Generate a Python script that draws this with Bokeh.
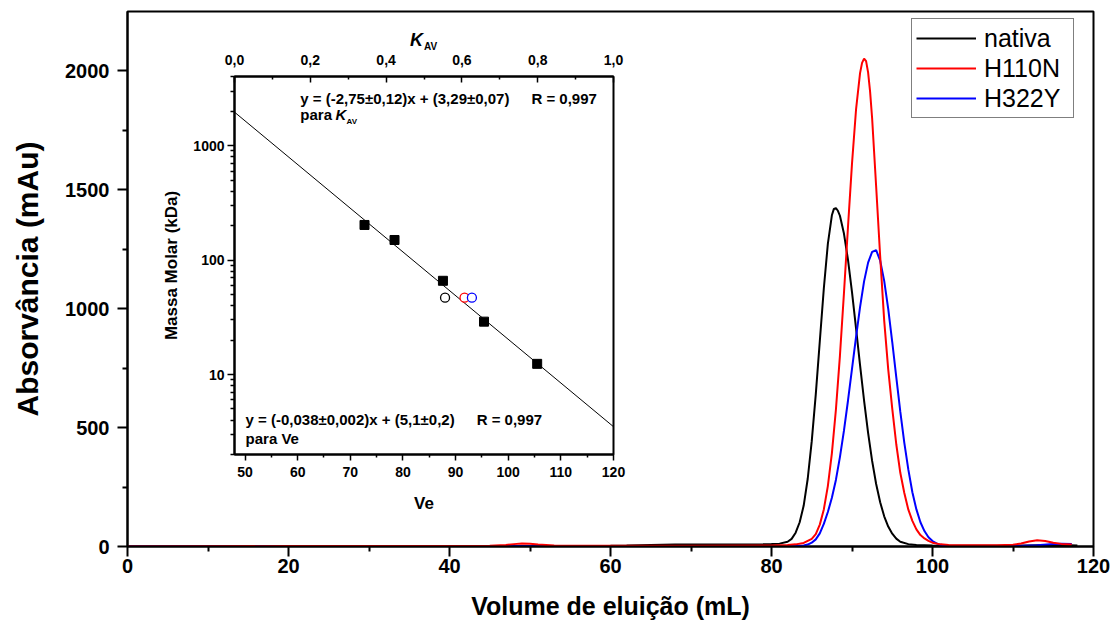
from jinja2 import Template
from bokeh.plotting import figure
from bokeh.models import (Legend, LegendItem, FixedTicker, LinearAxis, Range1d,
                          Label, NumeralTickFormatter, Div)
from bokeh.embed import file_html
from bokeh.resources import INLINE

# ---------------- data: main chromatograms ----------------
black_x = [0, 10, 20, 30, 40, 50, 60, 62, 65, 68, 72, 76, 79, 80, 81, 82, 82.5, 83, 83.5, 84, 84.5, 85,
           85.5, 86, 86.5, 87, 87.5, 87.75, 88, 88.25, 88.5, 89, 89.5, 90, 90.5, 91, 91.5, 92, 92.5, 93,
           93.5, 94, 94.5, 95, 95.5, 96, 97, 98, 100, 105, 110, 113, 115, 117, 118]
black_y = [0, 1, 1, 1, 2, 2, 3, 4, 6, 8, 8, 8, 9, 10, 12, 20, 32, 58, 102, 172, 285, 443,
           640, 863, 1085, 1273, 1393, 1420, 1423, 1412, 1391, 1316, 1206, 1070, 918, 763, 614, 478, 360, 263,
           186, 127, 84, 54, 33, 20, 10, 6, 4, 3, 3, 5, 6, 5, 4]

red_x = [0, 10, 20, 30, 40, 45, 47, 48, 49, 50, 51, 53, 56, 60, 70, 80, 82, 83, 84, 85, 85.5, 86,
         86.5, 87, 87.5, 88, 88.5, 89, 89.5, 90, 90.5, 91, 91.25, 91.5, 91.75, 92, 92.25, 92.5, 93, 93.5,
         94, 94.5, 95, 95.5, 96, 96.5, 97, 97.5, 98, 98.5, 99, 99.5, 100, 101, 102, 105, 108, 110,
         111, 112, 113, 114, 115, 116, 117.3]
red_y = [0, 1, 2, 2, 2, 3, 6, 10, 13, 12, 8, 4, 3, 3, 3, 4, 6, 9, 15, 32, 52, 92,
         156, 254, 392, 575, 802, 1065, 1343, 1610, 1837, 1991, 2034, 2052, 2041, 1994, 1912, 1801, 1514, 1220,
         950, 745, 580, 430, 310, 225, 155, 108, 72, 48, 34, 24, 16, 9, 6, 5, 5, 7,
         13, 21, 26, 23, 16, 11, 8]

blue_x = [0, 10, 20, 30, 40, 50, 60, 70, 80, 83, 84, 84.5, 85, 85.5, 86, 86.5, 87, 87.5, 88, 88.5,
          89, 89.5, 90, 90.5, 91, 91.5, 92, 92.5, 93, 93.5, 94, 94.5, 95, 95.5, 96, 96.5, 97, 97.5,
          98, 98.5, 99, 99.5, 100, 100.5, 101, 102, 105, 110, 113, 115, 116, 117.3]
blue_y = [0, 0, 1, 1, 1, 1, 1, 1, 1, 2, 4, 8, 16, 30, 55, 95, 145, 205, 280, 376,
          487, 613, 747, 881, 1007, 1115, 1194, 1239, 1246, 1202, 1117, 999, 860, 712, 567, 436, 323, 228,
          156, 102, 65, 39, 23, 13, 7, 3, 2, 2, 5, 10, 12, 10]

series_names = ["nativa", "H110N", "H322Y"]
series_colors = ["#000000", "#ff0000", "#0000ff"]

# ---------------- data: inset (calibration) ----------------
std_ve = [72.7, 78.4, 87.6, 95.4, 105.5]
std_mw = [203, 150, 66, 29, 12.4]
sample_ve = [88.0, 91.7, 93.1]
sample_mw = [47, 47, 47]
fit_ve = [48.1, 120]
fit_mw = [1950, 3.5]

main_ticks_x = [0, 20, 40, 60, 80, 100, 120]
main_ticks_y = [0, 500, 1000, 1500, 2000]
kav_ticks = [0.0, 0.2, 0.4, 0.6, 0.8, 1.0]
kav_labels = ["0,0", "0,2", "0,4", "0,6", "0,8", "1,0"]
ve_ticks = [50, 60, 70, 80, 90, 100, 110, 120]
mw_ticks = [10, 100, 1000]

FONT = "Liberation Sans"


def style_axis(ax, tick_size, label_size):
    ax.axis_line_color = "black"
    ax.major_tick_line_color = "black"
    ax.minor_tick_line_color = "black"
    ax.major_label_text_font = FONT
    ax.major_label_text_font_size = tick_size
    ax.major_label_text_font_style = "bold"
    ax.major_label_text_color = "black"
    ax.axis_label_text_font = FONT
    ax.axis_label_text_font_size = label_size
    ax.axis_label_text_font_style = "bold"
    ax.axis_label_text_color = "black"


# ---------------- main figure ----------------
p = figure(width=1115, height=629, x_range=(0, 120), y_range=(0, 2250),
           output_backend="svg", toolbar_location=None,
           min_border_left=127, min_border_right=22, min_border_top=11, min_border_bottom=83)
p.title = None
p.grid.visible = False
p.outline_line_color = "black"
p.outline_line_width = 2
p.background_fill_color = "white"

r_black = p.line(black_x, black_y, line_color=series_colors[0], line_width=2)
r_blue = p.line(blue_x, blue_y, line_color=series_colors[2], line_width=2)
r_red = p.line(red_x, red_y, line_color=series_colors[1], line_width=2)

xa = p.below[0]
ya = p.left[0]
for ax in (xa, ya):
    style_axis(ax, "20px", "25px")
    ax.axis_line_width = 2
    ax.major_tick_line_width = 2
    ax.minor_tick_line_width = 2
    ax.major_tick_in = 0
    ax.major_tick_out = 10
    ax.minor_tick_in = 0
    ax.minor_tick_out = 5
ya.axis_label_text_font_size = "30px"

xa.ticker = FixedTicker(ticks=main_ticks_x, minor_ticks=[10, 30, 50, 70, 90, 110])
ya.ticker = FixedTicker(ticks=main_ticks_y, minor_ticks=[250, 750, 1250, 1750])
xa.axis_label = "Volume de eluição (mL)"
ya.axis_label = "Absorvância (mAu)"
xa.major_label_standoff = 2
xa.axis_label_standoff = 16
ya.major_label_standoff = 8
ya.axis_label_standoff = 18

legend = Legend(items=[LegendItem(label=series_names[0], renderers=[r_black]),
                       LegendItem(label=series_names[1], renderers=[r_red]),
                       LegendItem(label=series_names[2], renderers=[r_blue])],
                location=(784, 428))
legend.label_text_font = FONT
legend.label_text_font_size = "25px"
legend.label_text_color = "black"
legend.glyph_width = 60
legend.glyph_height = 30
legend.label_height = 30
legend.label_width = 85
legend.label_standoff = 8
legend.padding = 4
legend.spacing = 0
legend.margin = 0
legend.border_line_color = "black"
legend.border_line_width = 1
legend.background_fill_color = "white"
legend.background_fill_alpha = 1
p.add_layout(legend)

# ---------------- inset figure ----------------
ins = figure(width=477, height=491, x_range=(48, 120), y_range=(2, 4030), y_axis_type="log",
             output_backend="svg", toolbar_location=None,
             min_border_left=84, min_border_right=14, min_border_top=51, min_border_bottom=62)
ins.title = None
ins.grid.visible = False
ins.outline_line_color = "black"
ins.outline_line_width = 2
ins.background_fill_color = "white"
ins.border_fill_color = None

ins.extra_x_ranges = {"kav": Range1d(0, 1)}
top_ax = LinearAxis(x_range_name="kav")
ins.add_layout(top_ax, "above")

ins.line(fit_ve, fit_mw, line_color="black", line_width=1)
ins.scatter(std_ve, std_mw, marker="square", size=9, fill_color="black", line_color="black")
ins.scatter(sample_ve, sample_mw, marker="circle", size=9, fill_color="white",
            line_color=series_colors, line_width=1.3)

bx = ins.below[0]
ly = ins.left[0]
for ax in (bx, ly, top_ax):
    style_axis(ax, "14px", "17px")
    ax.axis_line_width = 2
    ax.major_tick_line_width = 1.5
    ax.minor_tick_line_width = 1.5

bx.ticker = FixedTicker(ticks=ve_ticks, minor_ticks=[55, 65, 75, 85, 95, 105, 115])
bx.major_tick_in = 0; bx.major_tick_out = 6; bx.minor_tick_in = 0; bx.minor_tick_out = 3
bx.major_label_standoff = 6
bx.axis_label = "Ve"
bx.axis_label_standoff = 14

ly.ticker = FixedTicker(ticks=mw_ticks, minor_ticks=[2, 3, 4, 5, 6, 7, 8, 9, 20, 30, 40, 50, 60, 70, 80, 90,
                                                     200, 300, 400, 500, 600, 700, 800, 900, 2000, 3000, 4000])
ly.formatter = NumeralTickFormatter(format="0")
ly.major_tick_in = 0; ly.major_tick_out = 7; ly.minor_tick_in = 0; ly.minor_tick_out = 4
ly.major_label_standoff = 3
ly.axis_label = "Massa Molar (kDa)"
ly.axis_label_standoff = 9

top_ax.ticker = FixedTicker(ticks=kav_ticks, minor_ticks=[0.1, 0.3, 0.5, 0.7, 0.9])
top_ax.major_label_overrides = {t: l for t, l in zip(kav_ticks, kav_labels)}
top_ax.major_tick_in = 6; top_ax.major_tick_out = 0; top_ax.minor_tick_in = 3; top_ax.minor_tick_out = 0
top_ax.major_label_standoff = 12


def lab(x, y, text, size="15px", style="bold"):
    ins.add_layout(Label(x=x, y=y, text=text, text_font=FONT, text_font_size=size,
                         text_font_style=style, text_baseline="alphabetic", text_color="black"))


lab(60.5, 2590, "y = (-2,75±0,12)x + (3,29±0,07)")
lab(104.4, 2590, "R = 0,997")
lab(60.5, 1877, "para")
lab(67.2, 1877, "K", style="bold italic")
lab(69.3, 1630, "AV", size="8px")
lab(50.1, 4.02, "y = (-0,038±0,002)x + (5,1±0,2)")
lab(94.0, 4.02, "R = 0,997")
lab(50.1, 2.78, "para Ve")

# top-axis title of the inset (K with subscript AV), placed above the inset frame
kav_title = Div(text=('<span style="font-family:\'Liberation Sans\';font-weight:bold;font-size:18px;'
                      'line-height:18px;color:black;white-space:nowrap"><i>K</i>'
                      '<span style="font-size:10px;position:relative;top:4px;left:1px">AV</span></span>'),
                width=40, height=24, margin=0)

TEMPLATE = Template("""{% extends base %}
{% block postamble %}
<style>
#wrap {position: relative; width: 1115px; height: 629px; overflow: hidden; background: white;}
#wrap .r1 {position: absolute; left: 0px; top: 0px;}
#wrap .r2 {position: absolute; left: 150px; top: 25px;}
#wrap .r3 {position: absolute; left: 410px; top: 31px;}
</style>
{% endblock %}
{% block contents %}
{% from macros import embed %}
<div id="wrap">
{% for d in docs %}
{{ embed(d) if d.elementid }}
{% for root in d.roots %}
<div class="r{{ loop.index }}">{{ embed(root) }}</div>
{% endfor %}
{% endfor %}
</div>
{% endblock %}
""")

open("out.html", "w").write(file_html([p, ins, kav_title], INLINE, template=TEMPLATE))
